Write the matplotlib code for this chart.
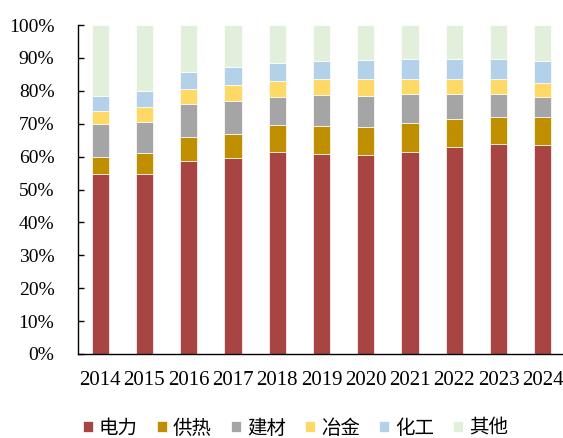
import numpy as np
import matplotlib
matplotlib.use('Agg')
from matplotlib import pyplot as plt

# Shares by sector, percent of total
years = ['2014', '2015', '2016', '2017', '2018', '2019',
         '2020', '2021', '2022', '2023', '2024']
power = [54.6, 54.8, 58.6, 59.7, 61.3, 60.7, 60.6, 61.5, 62.8, 63.7, 63.4]
heating = [5.3, 6.2, 7.3, 7.3, 8.2, 8.5, 8.3, 8.8, 8.5, 8.4, 8.5]
building = [9.9, 9.6, 10.0, 10.0, 8.7, 9.4, 9.4, 8.8, 7.8, 7.0, 6.3]
metallurgy = [4.2, 4.4, 4.6, 4.7, 4.9, 4.9, 5.2, 4.5, 4.5, 4.5, 4.3]
chemical = [4.5, 5.0, 5.2, 5.5, 5.3, 5.6, 5.8, 6.0, 6.2, 6.2, 6.6]
other = [21.5, 20.0, 14.3, 12.8, 11.6, 10.9, 10.7, 10.4, 10.2, 10.2, 10.9]

series = [power, heating, building, metallurgy, chemical, other]
names = ['电力', '供热', '建材', '冶金', '化工', '其他']
colors = ['#A84543', '#BF8F00', '#A5A5A5', '#FFD966', '#B4D1EA', '#E2EFDA']

fig = plt.figure(figsize=(5.63, 4.38), dpi=100)
ax = fig.add_axes([78/563, 1 - 354/438, 487/563, 329/438])

x = np.arange(len(years))
bottom = np.zeros(len(years))
for vals, name, col in zip(series, names, colors):
    ax.bar(x, vals, 0.39, bottom=bottom, color=col, label=name,
           edgecolor='white', linewidth=0.5)
    bottom += np.array(vals)

ax.set_xlim(-0.5, len(years) - 0.5)
ax.set_ylim(0, 100)
ax.set_yticks(np.arange(0, 101, 10))
ax.set_yticklabels(['%d%%' % v for v in range(0, 101, 10)],
                   family='Liberation Serif', fontsize=14)
ax.set_xticks(x)
ax.set_xticklabels(years, family='Liberation Serif', fontsize=15)
ax.tick_params(axis='y', direction='in', length=4, width=1, pad=17)
ax.tick_params(axis='x', length=0, pad=12)
ax.spines['top'].set_visible(False)
ax.spines['right'].set_visible(False)
for s in ['left', 'bottom']:
    ax.spines[s].set_linewidth(1)
    ax.spines[s].set_color('black')

fig.legend(loc='center', bbox_to_anchor=(0.525, 1 - 428/438), ncol=6,
           frameon=False, prop={'family': 'Noto Sans CJK SC', 'size': 14},
           handlelength=0.5, handleheight=0.5, handletextpad=0.3,
           columnspacing=1.0)

fig.savefig('out.png', dpi=100)
